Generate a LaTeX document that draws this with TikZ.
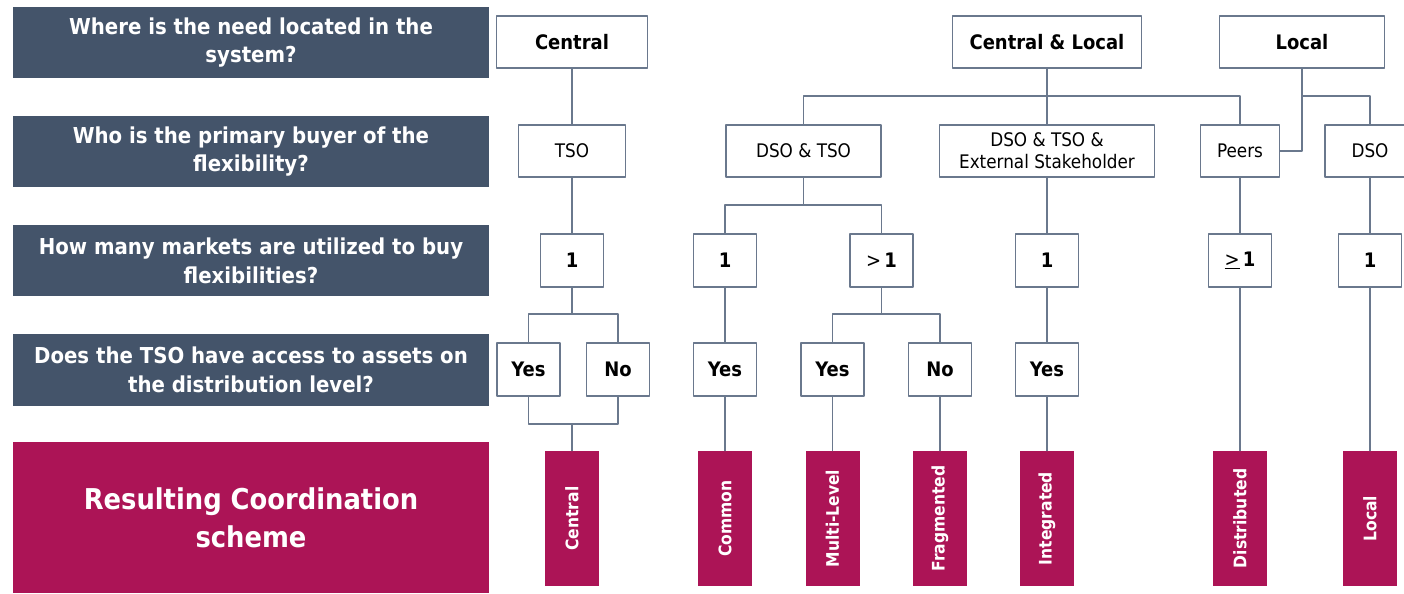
\documentclass[tikz,border=0pt]{standalone}
\usepackage{fontspec}
\setmainfont{DejaVu Sans Condensed}
\usepackage{graphicx}
\usetikzlibrary{positioning}

\definecolor{slate}{HTML}{44546A}
\definecolor{berry}{HTML}{AC1456}
\definecolor{edge}{HTML}{6A788D}

\tikzset{
  question/.style={fill=slate,text=white,align=center,inner sep=0pt,
    minimum width=11.9cm,minimum height=1.775cm,
    font=\bfseries\fontsize{15.6}{20.5}\selectfont},
  result/.style={question,fill=berry,minimum height=3.75cm,
    font=\bfseries\fontsize{20.4}{27}\selectfont},
  choice/.style={draw=edge,line width=1pt,fill=white,inner sep=0pt,
    minimum height=1.3cm,align=center,
    font=\bfseries\fontsize{14.2}{16}\selectfont},
  buyer/.style={choice,font=\fontsize{13.3}{15.5}\selectfont},
  count/.style={choice,minimum width=1.575cm,minimum height=1.325cm},
  scheme/.style={fill=berry,text=white,inner sep=0pt,
    minimum width=1.35cm,minimum height=3.375cm,
    font=\bfseries\fontsize{12.3}{14}\selectfont},
  link/.style={draw=edge,line width=1pt}
}

\begin{document}
\begin{tikzpicture}[x=0.025cm,y=-0.025cm,line cap=round,line join=round]
  \useasboundingbox (0,0) rectangle (1404,593);

  % Question column on the left.
  \node[question] (qWhere) at (251,42.5) {Where is the need located in the\\system?};
  \node[question] (qBuyer) at (251,151.5) {Who is the primary buyer of the\\flexibility?};
  \node[question] (qMarkets) at (251,260.5) {How many markets are utilized to buy\\flexibilities?};
  \node[question] (qAccess) at (251,370) {Does the TSO have access to assets on\\the distribution level?};
  \node[result] (qResult) at (251,517.5) {Resulting Coordination\\scheme};

  % Where is the need located.
  \node[choice,minimum width=3.775cm] (nCentral) at (572,42) {Central};
  \node[choice,minimum width=4.725cm] (nBoth) at (1047,42) {Central \& Local};
  \node[choice,minimum width=4.125cm] (nLocal) at (1302,42) {Local};

  % Primary buyer.
  \node[buyer,minimum width=2.675cm] (bTSO) at (572,151) {TSO};
  \node[buyer,minimum width=3.875cm] (bDsoTso) at (803.5,151) {DSO \& TSO};
  \node[buyer,minimum width=5.375cm] (bExt) at (1047,151) {DSO \& TSO \&\\External Stakeholder};
  \node[buyer,minimum width=1.975cm] (bPeers) at (1240,151) {Peers};
  \node[buyer,minimum width=2.25cm] (bDSO) at (1370,151) {DSO};

  % Number of markets.
  \node[count] (mCentral) at (572,260.5) {1};
  \node[count] (mCommon) at (725,260.5) {1};
  \node[count] (mMulti) at (881.5,260.5) {{\mdseries >}\,1};
  \node[count] (mInt) at (1047,260.5) {1};
  \node[count] (mPeers) at (1240,260.5) {{\mdseries \underline{>}}\,1};
  \node[count] (mLocal) at (1370,260.5) {1};

  % Access of the TSO.
  \node[count] (aYes) at (528.5,369.5) {Yes};
  \node[count] (aNo) at (618,369.5) {No};
  \node[count] (aCommon) at (725,369.5) {Yes};
  \node[count] (aMulti) at (832.5,369.5) {Yes};
  \node[count] (aFrag) at (940,369.5) {No};
  \node[count] (aInt) at (1047,369.5) {Yes};

  % Resulting schemes.
  \node[scheme] (rCentral) at (572,518.5) {\rotatebox{90}{Central}};
  \node[scheme] (rCommon) at (725,518.5) {\rotatebox{90}{Common}};
  \node[scheme] (rMulti) at (832.5,518.5) {\rotatebox{90}{Multi-Level}};
  \node[scheme] (rFrag) at (940,518.5) {\rotatebox{90}{Fragmented}};
  \node[scheme] (rInt) at (1047,518.5) {\rotatebox{90}{Integrated}};
  \node[scheme] (rDist) at (1240,518.5) {\rotatebox{90}{Distributed}};
  \node[scheme] (rLocal) at (1370,518.5) {\rotatebox{90}{Local}};

  % Branch points.
  \coordinate (jBoth) at (1047,96);
  \coordinate (jLocal) at (1302,96);
  \coordinate (jDsoTso) at (803.5,205);
  \coordinate (jCentral) at (572,314);
  \coordinate (jMulti) at (881.5,314);
  \coordinate (jJoin) at (572,424);

  % Connectors.
  \draw[link] (nCentral) -- (bTSO) -- (mCentral) -- (jCentral);
  \draw[link] (aYes.north) |- (jCentral) -| (aNo.north);
  \draw[link] (aYes.south) |- (jJoin) -| (aNo.south);
  \draw[link] (jJoin) -- (rCentral);

  \draw[link] (nBoth) -- (bExt) -- (mInt) -- (aInt) -- (rInt);
  \draw[link] (bDsoTso.north) |- (jBoth) -| (bPeers.north);
  \draw[link] (bDsoTso) -- (jDsoTso);
  \draw[link] (mCommon.north) |- (jDsoTso) -| (mMulti.north);
  \draw[link] (mCommon) -- (aCommon) -- (rCommon);
  \draw[link] (mMulti) -- (jMulti);
  \draw[link] (aMulti.north) |- (jMulti) -| (aFrag.north);
  \draw[link] (aMulti) -- (rMulti);
  \draw[link] (aFrag) -- (rFrag);

  \draw[link] (nLocal.south) |- (bPeers.east);
  \draw[link] (jLocal) -| (bDSO.north);
  \draw[link] (bPeers) -- (mPeers) -- (rDist);
  \draw[link] (bDSO) -- (mLocal) -- (rLocal);
\end{tikzpicture}
\end{document}
